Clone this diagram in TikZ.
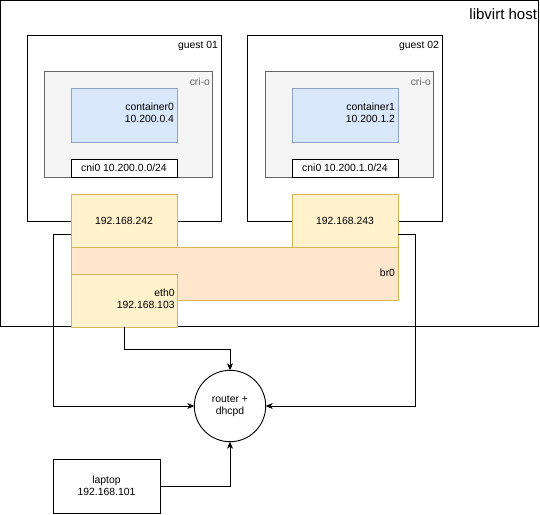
\documentclass[tikz,border=0pt]{standalone}
\usepackage{fontspec}
\setmainfont{Liberation Sans}
\usetikzlibrary{arrows.meta,calc}
\definecolor{yfill}{HTML}{FFF2CC}
\definecolor{ystroke}{HTML}{D6B656}
\definecolor{ofill}{HTML}{FFE6CC}
\definecolor{bfill}{HTML}{DAE8FC}
\definecolor{bstroke}{HTML}{8FA3C4}
\definecolor{gfill}{HTML}{F5F5F5}
\definecolor{gstroke}{HTML}{666666}
\tikzset{
  base/.style={inner sep=0pt, outer sep=0pt, font=\fontsize{10.4}{12}\selectfont},
  box/.style={base, draw=black, line width=0.9pt, fill=white, anchor=north west},
  guestbox/.style={box},
  criobox/.style={box, draw=gstroke, fill=gfill},
  contbox/.style={box, draw=bstroke, fill=bfill},
  cnibox/.style={box},
  ipbox/.style={box, draw=ystroke, fill=yfill},
  brbox/.style={box, draw=ystroke, fill=ofill},
  lbl/.style={base, anchor=east, align=right},
  conn/.style={line width=0.9pt, draw=black, -{Stealth[length=7pt,width=6pt,inset=2pt]}},
}
\begin{document}
\begin{tikzpicture}[x=1pt,y=-1pt]
\useasboundingbox (0,0) rectangle (540,514);
% host
\node[box, minimum width=538pt, minimum height=326pt] (host) at (0.5,0.5) {};
\node[lbl, font=\fontsize{15}{17}\selectfont] (hostlbl) at (537,14) {libvirt host};
% guest 01
\node[guestbox, minimum width=194pt, minimum height=186pt] (g1) at (27,35) {};
\node[lbl] (g1lbl) at (218,46) {guest 01};
\node[criobox, minimum width=168pt, minimum height=106pt] (c1) at (44,71) {};
\node[lbl, text=gstroke] (c1lbl) at (210,82) {cri-o};
\node[contbox, minimum width=106pt, minimum height=54pt] (k1) at (71,88) {};
\node[lbl] (k1lbl) at (174,113) {container0\\10.200.0.4};
\node[cnibox, minimum width=106pt, minimum height=18pt] (n1) at (71,159) {cni0 10.200.0.0/24};
% guest 02
\node[guestbox, minimum width=195pt, minimum height=186pt] (g2) at (247,35) {};
\node[lbl] (g2lbl) at (439,46) {guest 02};
\node[criobox, minimum width=168pt, minimum height=106pt] (c2) at (265,71) {};
\node[lbl, text=gstroke] (c2lbl) at (431,82) {cri-o};
\node[contbox, minimum width=106pt, minimum height=54pt] (k2) at (292,88) {};
\node[lbl] (k2lbl) at (395,113) {container1\\10.200.1.2};
\node[cnibox, minimum width=106pt, minimum height=18pt] (n2) at (292,159) {cni0 10.200.1.0/24};
% router and laptop
\node[base, draw=black, line width=0.9pt, circle, minimum size=71.4pt, align=center, fill=white] (router) at (230,406) {router +\\dhcpd};
\node[box, minimum width=107pt, minimum height=54pt, align=center] (laptop) at (53,459) {laptop\\192.168.101};
% network boxes
\node[ipbox, minimum width=106pt, minimum height=53pt] (ip1) at (71,194) {192.168.242};
\node[ipbox, minimum width=106pt, minimum height=53pt] (ip2) at (292,194) {192.168.243};
\node[brbox, minimum width=327pt, minimum height=53pt] (br) at (71,247) {};
\node[lbl] (brlbl) at (395,273) {br0};
\node[ipbox, minimum width=106pt, minimum height=53pt] (eth) at (71,274) {};
\node[lbl] (ethlbl) at (174.6,299) {eth0\\192.168.103};
% connectors
\draw[conn] ([yshift=-13.5pt]ip1.west) -- ++(-18,0) |- (router.west);
\draw[conn] ([yshift=-13.5pt]ip2.east) -- ++(17.6,0) |- (router.east);
\draw[conn] (eth.south) -- ++(0,22) -| (router.north);
\draw[conn] (laptop.east) -| (router.south);
\end{tikzpicture}
\end{document}
